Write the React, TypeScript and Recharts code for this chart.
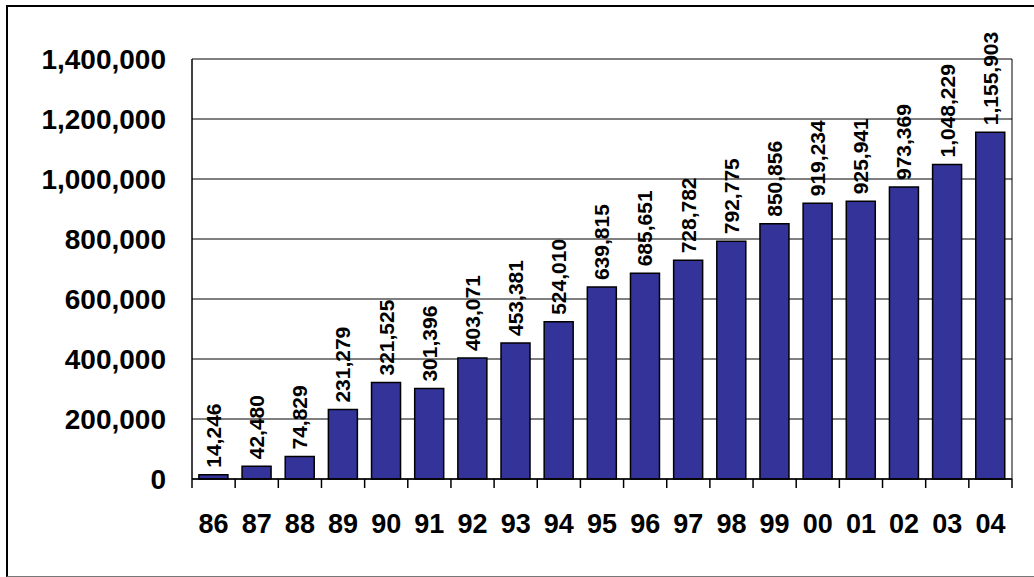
import { Bar, BarChart, CartesianGrid, LabelList, XAxis, YAxis } from "recharts";

const years = ["86", "87", "88", "89", "90", "91", "92", "93", "94", "95", "96", "97", "98", "99", "00", "01", "02", "03", "04"];
const totals = [14246, 42480, 74829, 231279, 321525, 301396, 403071, 453381, 524010, 639815, 685651, 728782, 792775, 850856, 919234, 925941, 973369, 1048229, 1155903];
const yTicks = [0, 200000, 400000, 600000, 800000, 1000000, 1200000, 1400000];

const data = years.map((year, i) => ({ year, total: totals[i] }));

const W = 1034;
const H = 577;
const PLOT_LEFT = 192;
const PLOT_RIGHT = 1012;
const PLOT_TOP = 59;
const PLOT_BOTTOM = 479;
const BAND = (PLOT_RIGHT - PLOT_LEFT) / years.length;
const FONT = "'Liberation Sans', Arial, sans-serif";

const fmt = (v: number) => v.toLocaleString("en-US");

function YearTick(props: any) {
  const { x, y, payload, index } = props;
  const last = index === years.length - 1;
  return (
    <g>
      <line x1={x - BAND / 2} x2={x - BAND / 2} y1={y} y2={y + 9} stroke="#000" strokeWidth={1.5} />
      {last && <line x1={x + BAND / 2} x2={x + BAND / 2} y1={y} y2={y + 9} stroke="#000" strokeWidth={1.5} />}
      <text x={x} y={y + 54} textAnchor="middle" fontSize={27} fontWeight="bold" fill="#000" fontFamily={FONT}>
        {payload.value}
      </text>
    </g>
  );
}

function ValueLabel(props: any) {
  const { x, y, width, value } = props;
  const cx = x + width / 2;
  const ty = y - 7;
  return (
    <text
      x={cx}
      y={ty}
      transform={`rotate(-90, ${cx}, ${ty})`}
      textAnchor="start"
      dominantBaseline="central"
      fontSize={21}
      fontWeight="bold"
      fill="#000"
      fontFamily={FONT}
    >
      {fmt(value)}
    </text>
  );
}

export default function App() {
  return (
    <div style={{ position: "absolute", left: 0, top: 0, width: W, height: H, overflow: "hidden", background: "#fff" }}>
      <div
        style={{
          position: "absolute",
          left: 6,
          top: 5,
          width: 1100,
          height: 572,
          boxSizing: "border-box",
          borderLeft: "2px solid #000",
          borderTop: "2px solid #000",
          borderBottom: "1px solid #777",
        }}
      />
      <div style={{ position: "absolute", left: 0, top: 0 }}>
        <BarChart
          width={W}
          height={H}
          data={data}
          margin={{ top: PLOT_TOP, right: W - PLOT_RIGHT, bottom: 0, left: 0 }}
          barCategoryGap="16%"
        >
          <CartesianGrid stroke="#000" strokeWidth={1} verticalPoints={[PLOT_RIGHT]} />
          <XAxis
            dataKey="year"
            height={H - PLOT_BOTTOM}
            tickLine={false}
            tickSize={0}
            tickMargin={0}
            axisLine={{ stroke: "#000", strokeWidth: 1.5 }}
            tick={<YearTick />}
            interval={0}
          />
          <YAxis
            width={PLOT_LEFT}
            domain={[0, 1400000]}
            ticks={yTicks}
            tickFormatter={fmt}
            tickLine={false}
            tickSize={0}
            tickMargin={26}
            axisLine={{ stroke: "#000", strokeWidth: 1.5 }}
            tick={{ fontSize: 28, fontWeight: "bold", fill: "#000", fontFamily: FONT }}
          />
          <Bar dataKey="total" fill="#333399" stroke="#000" strokeWidth={1.5} isAnimationActive={false}>
            <LabelList dataKey="total" content={<ValueLabel />} />
          </Bar>
        </BarChart>
      </div>
    </div>
  );
}
